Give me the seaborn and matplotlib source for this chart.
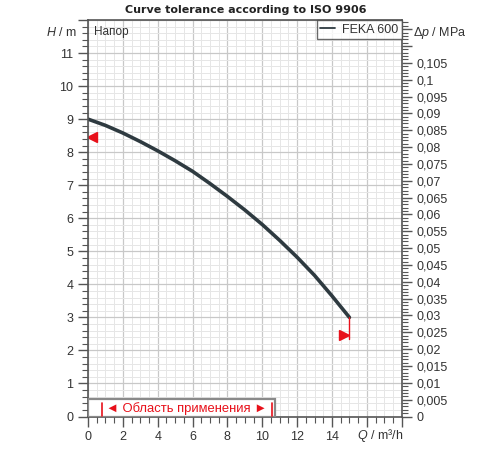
import matplotlib as mpl
import seaborn as sns
import pandas as pd
from matplotlib import pyplot as plt
from matplotlib.patches import Rectangle
from matplotlib.ticker import MultipleLocator, FuncFormatter

sns.set_theme(style='white')
mpl.rcParams['font.family'] = ['Liberation Sans', 'DejaVu Sans']
mpl.rcParams['mathtext.fontset'] = 'custom'
mpl.rcParams['mathtext.it'] = 'Liberation Sans:italic'
mpl.rcParams['axes.unicode_minus'] = False

# данные кривой (чтение с графика)
q = [0, 1, 2, 3, 4, 5, 6, 7, 8, 9, 10, 11, 12, 13, 14, 15]
h = [9.0, 8.81, 8.58, 8.32, 8.04, 7.74, 7.42, 7.05, 6.66, 6.25, 5.81, 5.33,
     4.82, 4.27, 3.65, 3.0]
series = 'FEKA 600'
tol_left = (0.25, 8.47)
tol_right = (14.7, 2.47)
range_q = [0.82, 10.55]
RHO_G = 0.00981  # MPa на метр

df = pd.DataFrame({'Q': q, 'H': h, 'pump': series})

TXT = '#333333'
RED = '#e8101a'
fig = plt.figure(figsize=(5, 4.5), dpi=100)
ax = fig.add_axes([0.176, 0.0744, 0.6274, 0.8812])

sns.lineplot(ax=ax, data=df, x='Q', y='H', hue='pump',
             palette=['#2e3a40'], linewidth=2.6)

ax.set_xlim(0, 18)
ax.set_ylim(0, 12)
ax.xaxis.set_major_locator(MultipleLocator(2))
ax.xaxis.set_minor_locator(MultipleLocator(0.5))
ax.yaxis.set_major_locator(MultipleLocator(1))
ax.yaxis.set_minor_locator(MultipleLocator(0.2))
ax.xaxis.set_major_formatter(FuncFormatter(
    lambda v, p: f'{v:g}' if v <= 14 else ''))
ax.yaxis.set_major_formatter(FuncFormatter(
    lambda v, p: f'{v:g}' if v <= 11 else ''))
ax.grid(which='major', color='#c8c8c8', linewidth=0.9)
ax.grid(which='minor', color='#e6e6e6', linewidth=0.7)
ax.set_axisbelow(True)
ax.tick_params(which='both', direction='out', colors='#555555',
               labelcolor=TXT, labelsize=9, left=True, bottom=True)
ax.tick_params(which='major', length=7, width=1)
ax.tick_params(which='minor', length=4, width=0.8)
for s in ax.spines.values():
    s.set_color('#555555')
    s.set_linewidth(1.2)
ax.set_xlabel('')
ax.set_ylabel('')

# правая ось давления
ax2 = ax.twinx()
ax2.set_ylim(0, 12 * RHO_G)
ax2.yaxis.set_major_locator(MultipleLocator(0.005))
ax2.yaxis.set_minor_locator(MultipleLocator(0.001))
ax2.yaxis.set_major_formatter(FuncFormatter(
    lambda v, p: f'{v:g}'.replace('.', ',') if v < 0.1075 else ''))
ax2.tick_params(which='both', direction='out', colors='#555555',
                labelcolor=TXT, labelsize=9, right=True)
ax2.tick_params(which='major', length=7, width=1)
ax2.tick_params(which='minor', length=4, width=0.8)
for s in ax2.spines.values():
    s.set_visible(False)

# допуски
ax.plot(*tol_left, marker='<', color=RED, markersize=7, linestyle='')
ax.plot(*tol_right, marker='>', color=RED, markersize=7, linestyle='')
ax.plot([q[-1], q[-1]], [h[-1], 2.35], color=RED, linewidth=1)

# область применения
ax.add_patch(Rectangle((0, 0), 10.75, 0.53, facecolor='white',
                       edgecolor='#8a8a8a', linewidth=1.6, zorder=3))
for x in range_q:
    ax.plot([x, x], [0.03, 0.42], color=RED, linewidth=1.2, zorder=4)
ax.text(5.66, 0.25, '\u25c4 Область применения \u25ba',
        color=RED, fontsize=9.4, ha='center', va='center', zorder=4)

ax.text(0.02, 0.985, 'Напор', transform=ax.transAxes, fontsize=8.5,
        color=TXT, ha='left', va='top')

leg = ax.legend(loc='upper right', frameon=True, fontsize=9,
                handlelength=1.2, handletextpad=0.5, borderpad=0.3,
                borderaxespad=0)
leg.get_frame().set_edgecolor('#444444')
leg.get_frame().set_boxstyle('square', pad=0)
leg.get_frame().set_linewidth(1)
for line in leg.get_lines():
    line.set_linewidth(1.3)
for t in leg.get_texts():
    t.set_color(TXT)

fig.text(0.154, 1 - 33 / 450, '$H$ / m', fontsize=9, color=TXT,
         ha='right', va='center')
fig.text(0.826, 1 - 33 / 450, '\u0394$p$ / MPa', fontsize=9, color=TXT,
         ha='left', va='center')
fig.text(0.761, 1 - 435 / 450, '$Q$ / m³/h', fontsize=9, color=TXT,
         ha='center', va='center')
fig.text(0.491, 1 - 10 / 450, 'Curve tolerance according to ISO 9906',
         fontsize=8, fontweight='bold', color='#222222',
         family='DejaVu Sans', ha='center', va='center')

fig.savefig('out.png', dpi=100)
